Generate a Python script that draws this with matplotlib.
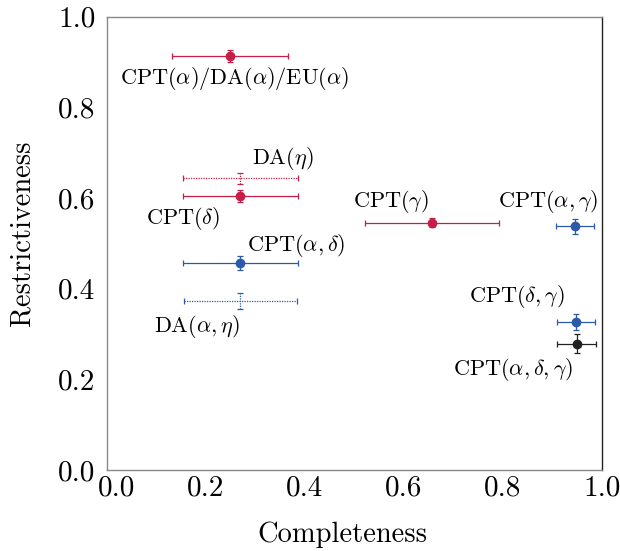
import matplotlib
matplotlib.use("Agg")
import matplotlib.pyplot as plt
import matplotlib.transforms as mtransforms
import numpy as np

plt.rcParams['font.family'] = 'serif'
plt.rcParams['font.serif'] = ['cmr10']
plt.rcParams['mathtext.fontset'] = 'cm'
plt.rcParams['axes.formatter.use_mathtext'] = True

RED = '#c51f48'
BLUE = '#2c5aa8'
BLACK = '#222222'

# data
labels = ['CPT($\\alpha$)/DA($\\alpha$)/EU($\\alpha$)', 'DA($\\eta$)', 'CPT($\\delta$)',
          'CPT($\\alpha,\\delta$)', 'DA($\\alpha,\\eta$)', 'CPT($\\gamma$)',
          'CPT($\\alpha,\\gamma$)', 'CPT($\\delta,\\gamma$)', 'CPT($\\alpha,\\delta,\\gamma$)']
completeness = [0.249, 0.270, 0.270, 0.270, 0.270, 0.657, 0.946, 0.948, 0.949]
restrictiveness = [0.913, 0.643, 0.605, 0.456, 0.373, 0.545, 0.537, 0.327, 0.278]
x_err = [0.117, 0.116, 0.116, 0.116, 0.114, 0.135, 0.038, 0.038, 0.039]
y_err = [0.013, 0.013, 0.013, 0.015, 0.017, 0.010, 0.016, 0.018, 0.021]
colors = [RED, RED, RED, BLUE, BLUE, RED, BLUE, BLUE, BLACK]
dotted = [False, True, False, False, True, False, False, False, False]
# label positions (data coords)
label_x = [0.259, 0.355, 0.154, 0.383, 0.183, 0.574, 0.891, 0.828, 0.821]
label_y = [0.864, 0.687, 0.555, 0.496, 0.316, 0.592, 0.592, 0.382, 0.222]
ticks = [0.0, 0.2, 0.4, 0.6, 0.8, 1.0]

fig = plt.figure(figsize=(6.2, 5.51), dpi=100)
ax = fig.add_axes([106.5/620, 1-470/551, 495.5/620, 453.5/551])

for i in range(len(labels)):
    if dotted[i]:
        eb = ax.errorbar(completeness[i], restrictiveness[i], xerr=x_err[i], yerr=y_err[i],
                         fmt='none', ecolor=colors[i], elinewidth=0.9, capsize=2.5,
                         capthick=0.9)
        for lc in eb[2]:
            lc.set_linestyle((0, (1, 1)))
    else:
        ax.errorbar(completeness[i], restrictiveness[i], xerr=x_err[i], yerr=y_err[i],
                    fmt='o', color=colors[i], ecolor=colors[i], markersize=6,
                    elinewidth=0.9, capsize=2.5, capthick=0.9)
    ax.text(label_x[i], label_y[i], labels[i], ha='center', va='center', fontsize=16)

ax.set_xlim(0, 1)
ax.set_ylim(0, 1)
ax.set_xticks(ticks)
ax.set_yticks(ticks)
ax.set_xticklabels([f'{v:.1f}' for v in ticks])
ax.set_yticklabels([f'{v:.1f}' for v in ticks])
ax.tick_params(length=0, labelsize=21)
ax.tick_params(axis='x', pad=4)
ax.tick_params(axis='y', pad=8)
for s in ['left', 'bottom', 'top']:
    ax.spines[s].set_color('#888888')
ax.spines['right'].set_color('#222222')
for s in ax.spines.values():
    s.set_linewidth(1.0)

# the first x tick label sits a little to the right
first = ax.xaxis.get_major_ticks()[0].label1
first.set_transform(first.get_transform() +
                    mtransforms.ScaledTranslation(10/100, 0, fig.dpi_scale_trans))

ax.set_xlabel('Completeness', fontsize=20.5, labelpad=14, x=0.477)
ax.set_ylabel('Restrictiveness', fontsize=20.5, labelpad=16, y=0.523)

fig.savefig('out.png', dpi=100)
